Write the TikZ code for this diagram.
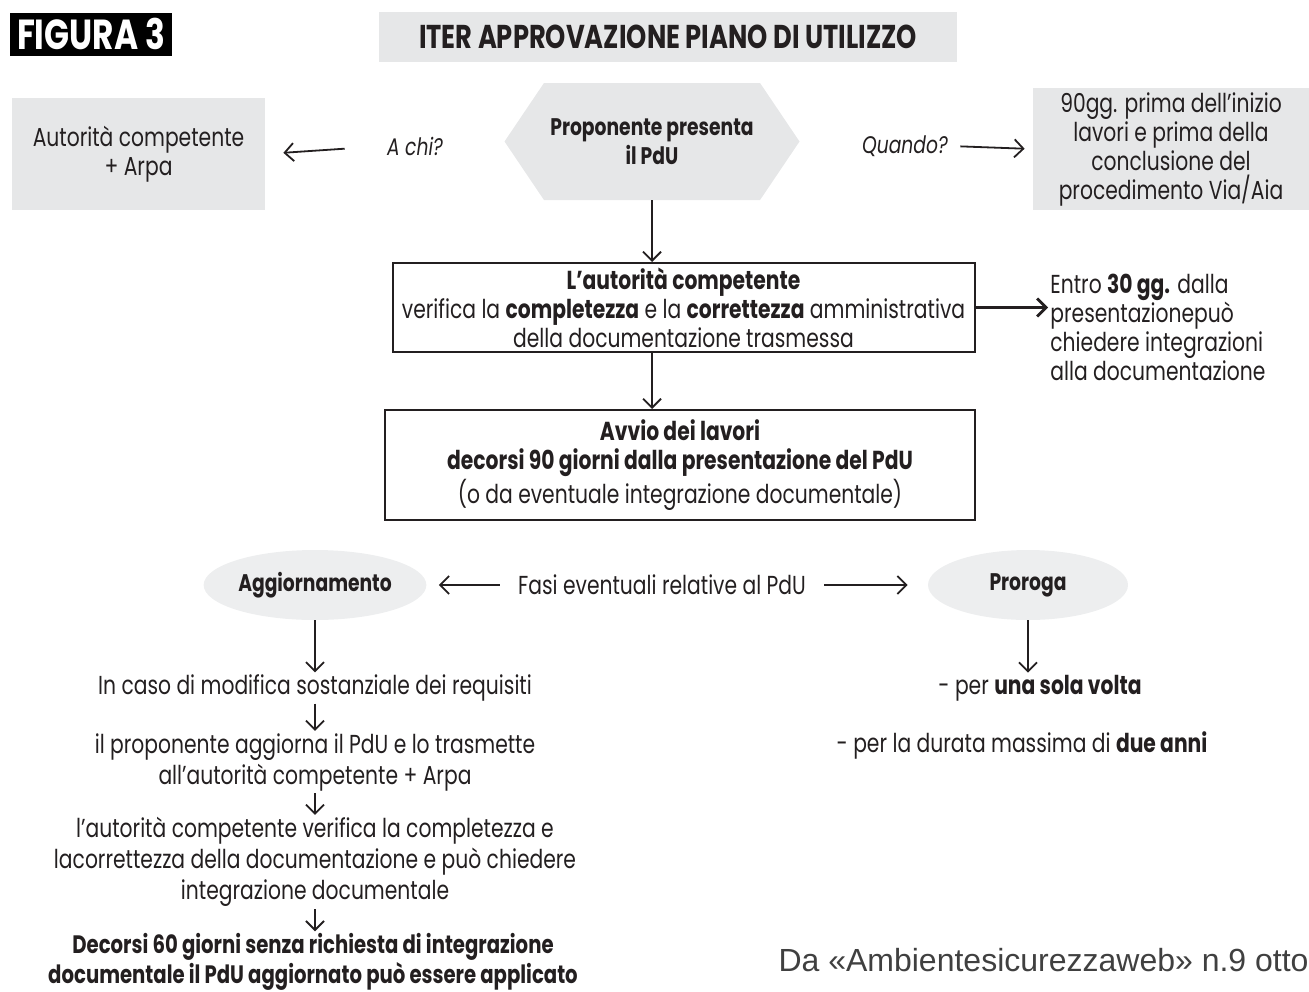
\documentclass[tikz,border=0pt]{standalone}
\usepackage{fontspec}
\setmainfont{Poppins}[FakeStretch=0.78]
\newfontfamily\srcfont{Liberation Sans}
\usetikzlibrary{arrows.meta,shapes.geometric,shapes.symbols}

\definecolor{boxgray}{HTML}{E6E7E8}
\definecolor{ovalgray}{HTML}{EDEEEF}
\definecolor{ink}{HTML}{231F20}

\tikzset{
  txt/.style={text=ink, align=center, inner sep=1pt, font=\fontsize{13}{14.5}\selectfont},
  greybox/.style={txt, fill=boxgray},
  framebox/.style={txt, draw=ink, line width=1pt, fill=white},
  oval/.style={txt, ellipse, fill=ovalgray, minimum width=100pt, minimum height=35pt,
    font=\fontsize{12}{14.5}\selectfont\bfseries},
  arr/.style={-{Straight Barb[length=4.5pt,width=9pt]}, line width=0.9pt, draw=ink},
}

\begin{document}
\begin{tikzpicture}[x=0.5pt,y=-0.5pt]
\useasboundingbox (0,0) rectangle (1309,991);

% heading
\node[fill=black, text=white, inner sep=0pt, minimum width=81pt, minimum height=21.5pt,
  font=\fontsize{21}{24}\selectfont\bfseries] (fig) at (91,34) {FIGURA 3};
\node[greybox, minimum width=289pt, minimum height=25pt,
  font=\fontsize{16.5}{18}\selectfont\bfseries] (title) at (668,37) {ITER APPROVAZIONE PIANO DI UTILIZZO};

% top row
\node[greybox, minimum width=126.5pt, minimum height=56pt] (auth) at (138.5,154) {Autorità competente\\+ Arpa};
\node[txt, font=\fontsize{12}{14.5}\selectfont\itshape] (achi) at (415,146) {A chi?};
\node[greybox, signal, signal to=west and east, signal pointer angle=112,
  minimum width=147.5pt, minimum height=58.5pt, font=\fontsize{12}{14.5}\selectfont\bfseries] (pdu) at (652,141.5)
  {Proponente presenta\\il PdU};
\node[txt, font=\fontsize{12}{14.5}\selectfont\itshape] (quando) at (905,146) {Quando?};
\node[greybox, minimum width=138pt, minimum height=61pt] (when) at (1171,149)
  {90gg. prima dell’inizio\\lavori e prima della\\conclusione del\\procedimento Via/Aia};

\draw[arr, shorten <=20pt, shorten >=9pt] (achi.west) -- (auth.east);
\draw[arr, shorten <=5pt, shorten >=4pt] (quando.east) -- (when.west);

% central column
\node[framebox, minimum width=291pt, minimum height=44.5pt] (check) at (683.5,307.5)
  {\textbf{L’autorità competente}\\
   verifica la \textbf{completezza} e la \textbf{correttezza} amministrativa\\
   della documentazione trasmessa};
\node[txt, anchor=north west, align=left] (entro) at (1048,272)
  {Entro \textbf{30 gg.} dalla\\presentazionepuò\\chiedere integrazioni\\alla documentazione};
\node[framebox, minimum width=295pt, minimum height=55pt] (avvio) at (680,465)
  {\textbf{Avvio dei lavori}\\
   \textbf{decorsi 90 giorni dalla presentazione del PdU}\\
   (o da eventuale integrazione documentale)};

\draw[arr] (pdu.south) -- (pdu.south |- check.north);
\draw[arr, line width=1.4pt] (check.east) -- (check.east -| entro.west);
\draw[arr] (pdu.south |- check.south) -- (pdu.south |- avvio.north);

% optional phases
\node[txt] (fasi) at (662,585) {Fasi eventuali relative al PdU};
\node[oval] (agg) at (315,585) {Aggiornamento};
\node[oval] (proroga) at (1028,585) {Proroga};
\draw[arr, shorten <=8pt, shorten >=6pt] (fasi.west) -- (agg.east);
\draw[arr, shorten <=8pt, shorten >=10pt] (fasi.east) -- (proroga.west);

% aggiornamento
\node[txt] (caso) at (315,688) {In caso di modifica sostanziale dei requisiti};
\node[txt, font=\fontsize{13}{15.5}\selectfont] (aggiorna) at (315,762)
  {il proponente aggiorna il PdU e lo trasmette\\all’autorità competente + Arpa};
\node[txt, font=\fontsize{13}{15.5}\selectfont] (verifica) at (315,862)
  {l’autorità competente verifica la completezza e\\lacorrettezza della documentazione e può chiedere\\integrazione documentale};
\node[txt, font=\fontsize{12.6}{14.8}\selectfont\bfseries] (decorsi) at (313,962)
  {Decorsi 60 giorni senza richiesta di integrazione\\documentale il PdU aggiornato può essere applicato};
\draw[arr] (agg.south) -- (caso.north);
\draw[arr] (caso.south) -- (aggiorna.north);
\draw[arr] (aggiorna.south) -- (verifica.north);
\draw[arr] (verifica.south) -- (verifica.south |- decorsi.north);

% proroga
\node[txt] (volta) at (1040,688) {- per \textbf{una sola volta}};
\node[txt] (anni) at (1022,745) {- per la durata massima di \textbf{due anni}};
\draw[arr] (proroga.south) -- (proroga.south |- volta.north);

% source
\node[anchor=east, inner sep=0pt, text=black!75, font=\srcfont\fontsize{16}{18}\selectfont] (src) at (1309,960)
  {Da «Ambientesicurezzaweb» n.9 otto};
\end{tikzpicture}
\end{document}
